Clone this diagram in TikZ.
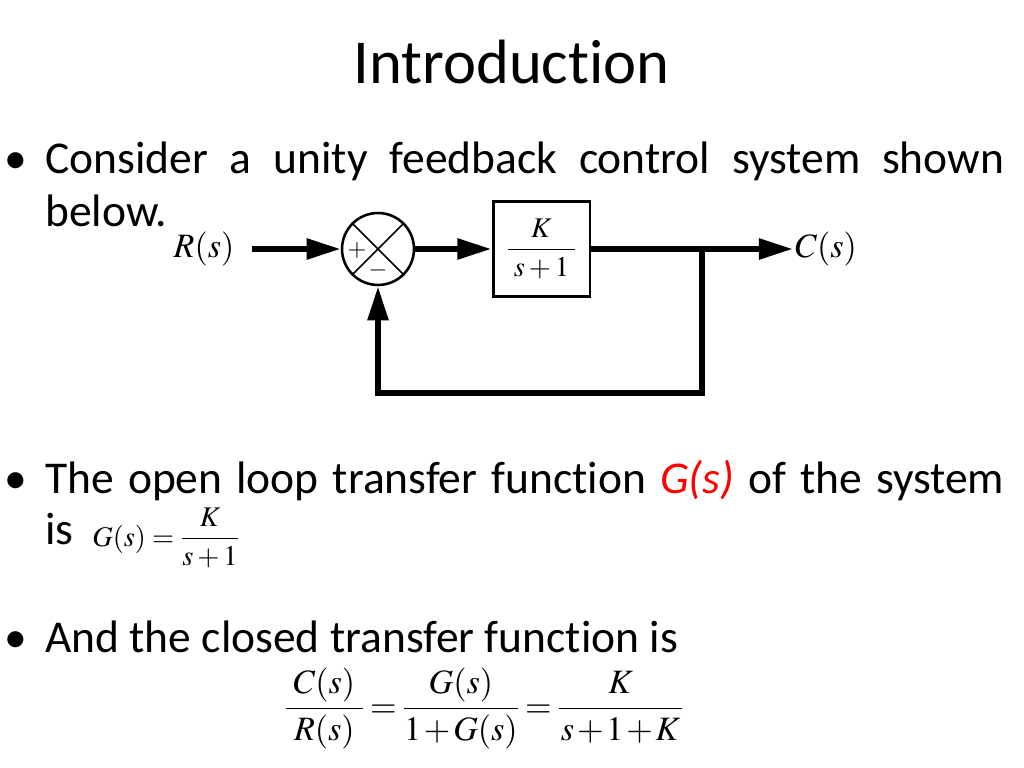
\documentclass[tikz,border=0pt]{standalone}
\usepackage{amsmath}
\usepackage{mathptmx}
\usepackage[no-math]{fontspec}
\setmainfont{Carlito}[Ligatures=NoCommon]
\usepackage{xcolor}
\usepackage{tikz}
\usetikzlibrary{arrows.meta}
\definecolor{bg}{HTML}{FFFFFF}
\definecolor{ink}{HTML}{000000}
\definecolor{hl}{HTML}{FF0000}
\newdimen\px \px=0.703125pt
\tikzset{
  head/.style={font=\fontsize{44}{53}\selectfont, text=ink, inner sep=0pt, anchor=base},
  item/.style={font=\fontsize{32}{38}\selectfont, text=ink, inner sep=0pt, anchor=base west},
  dot/.style={font=\fontsize{32}{38}\selectfont, text=ink, inner sep=0pt, anchor=base},
  wire/.style={draw=ink, line width=4.2pt},
  sig/.style={wire, -{Triangle[length=24pt,width=14pt]}},
  thinline/.style={draw=ink, line width=1.1pt},
  blockbox/.style={draw=ink, line width=2.1pt, minimum width=68.2pt, minimum height=66.8pt,
    inner sep=0pt, font=\fontsize{20}{24}\selectfont},
  sumcirc/.style={circle, draw=ink, line width=1.8pt, minimum size=50.6pt, inner sep=0pt},
  lbl/.style={font=\fontsize{24}{29}\selectfont, text=ink},
  sign/.style={font=\fontsize{17}{20}\selectfont, text=ink, inner sep=0pt},
  eqsmall/.style={font=\fontsize{20}{24}\selectfont, text=ink, inner sep=0pt, anchor=base west},
  eqbig/.style={font=\fontsize{24}{29}\selectfont, text=ink, inner sep=0pt, anchor=base west}
}

\begin{document}
\begin{tikzpicture}[x=\px, y=-\px]
  \fill[bg] (0,0) rectangle (1024,768);
  \useasboundingbox (0,0) rectangle (1024,768);

  \node[head] (title) at (511.5,84) {Introduction};

  \foreach \y in {174,493,652}{
    \node[dot] at (15.5,\y) {•};
  }
  \node[item] (l1) at (45,174) {\makebox[959\px][s]{Consider a unity feedback control system shown}};
  \node[item] (l2) at (45,227) {below.};
  \node[item] (l3) at (45,493) {\makebox[959\px][s]{The open loop transfer function \textcolor{hl}{\textit{G(s)}} of the system}};
  \node[item] (l4) at (45,544) {is};
  \node[item] (l5) at (45,652) {And the closed transfer function is};

  \node[lbl, inner xsep=12pt] (R) at (204,249) {$R(s)$};
  \node[sumcirc] (sum) at (378,249) {};
  \draw[thinline] (sum.north west) -- (sum.south east);
  \draw[thinline] (sum.north east) -- (sum.south west);
  \node[sign] (plus) at (357,250) {$+$};
  \node[sign] (minus) at (378,270) {$-$};
  \node[blockbox] (plant) at (541.5,249) {$\displaystyle\frac{K}{\mkern4mu s+1\mkern4mu}$};
  \node[lbl, inner xsep=1.4pt] (C) at (826,249) {$C(s)$};
  \coordinate (branch) at (702,249);
  \coordinate (corner) at (702,393);

  \draw[sig] (R) -- (sum);
  \draw[sig] (sum) -- (plant);
  \draw[sig] (plant) -- (C);
  \draw[sig] (branch) -- (corner) -| (sum.south);

  \node[eqsmall] (gdef) at (92,546) {$G(s)=\displaystyle\frac{K}{s+1}$};
  \node[eqbig] (ratio) at (284,717) {\thickmuskip=3mu \medmuskip=1.5mu
    $\displaystyle\frac{\mkern4mu C(s)\mkern4mu}{\mkern4mu R(s)\mkern4mu}
    =\frac{G(s)}{1+G(s)}=\frac{K}{\mkern1mu s+1+K\mkern1mu}$};
\end{tikzpicture}
\end{document}
